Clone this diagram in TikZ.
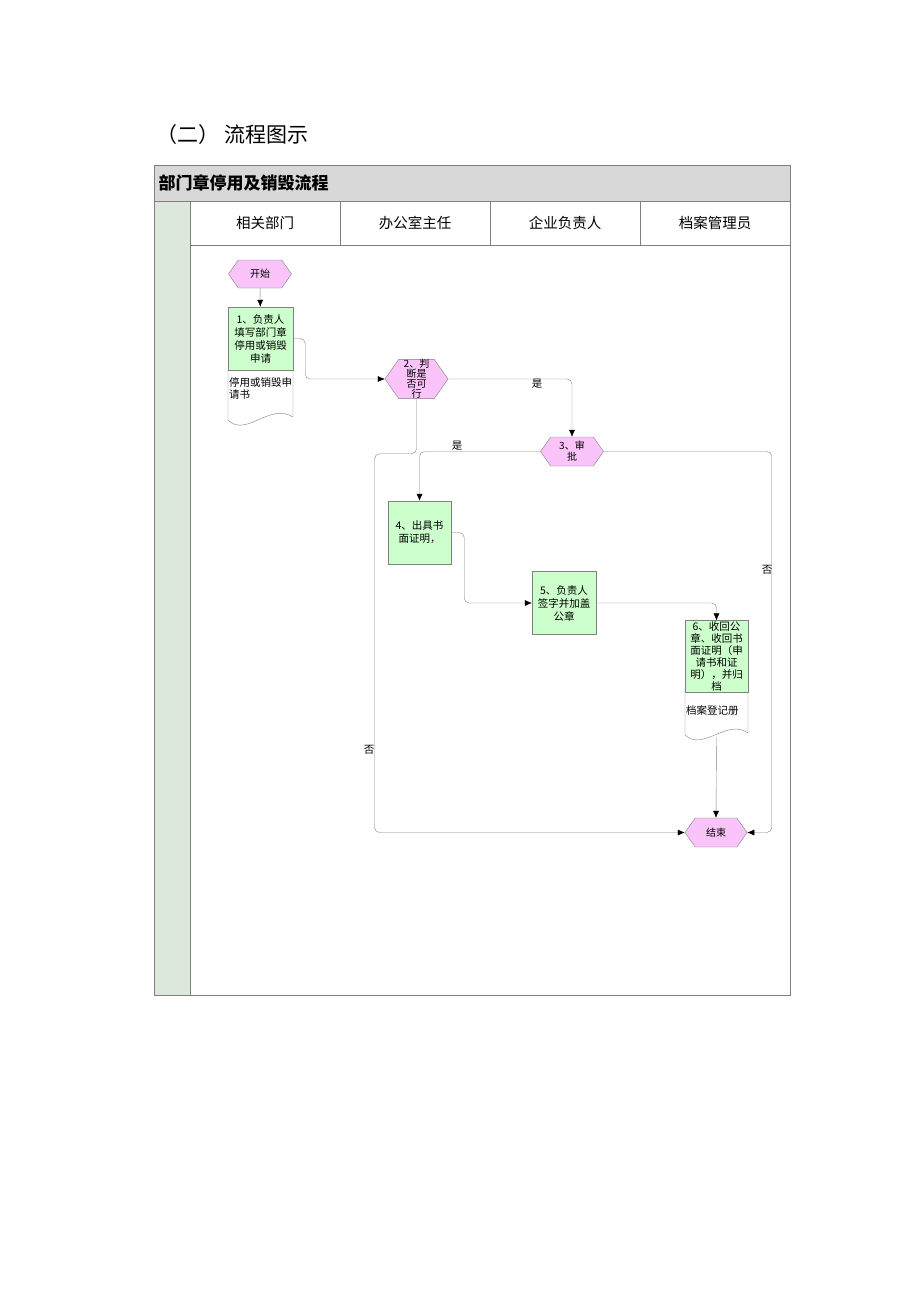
\documentclass[tikz,border=0pt]{standalone}
\usepackage{fontspec}
\setmainfont{Noto Sans CJK SC}
\usetikzlibrary{shapes.symbols,arrows.meta}
\definecolor{procgreen}{RGB}{204,255,204}
\definecolor{termpink}{RGB}{250,196,250}
\definecolor{linegray}{RGB}{128,128,128}
\definecolor{headgray}{RGB}{216,216,216}
\definecolor{stripgray}{RGB}{220,232,220}
\begin{document}
\begin{tikzpicture}[x=1pt,y=-1pt,
    term/.style={signal, signal to=west and east, signal pointer angle=110,
      draw=linegray, fill=termpink, minimum width=63pt, minimum height=28pt,
      inner sep=0pt, font=\fontsize{10}{11}\selectfont, align=center},
    proc/.style={rectangle, draw=linegray, fill=procgreen, minimum width=64pt,
      minimum height=63pt, inner sep=1pt, font=\fontsize{10.5}{13}\selectfont, align=center},
    flow/.style={draw=linegray, rounded corners=5pt,
      -{Latex[color=black,length=7pt,width=6pt]}},
    lane/.style={font=\fontsize{14.5}{16}\selectfont},
    tag/.style={font=\fontsize{10.5}{12}\selectfont, inner sep=1pt}]

  \useasboundingbox (0,0) rectangle (920,1302);

  \node[anchor=west, font=\fontsize{21}{23}\selectfont] (heading) at (153,135) {（二）\ 流程图示};

  % frame and lanes
  \filldraw[draw=linegray, fill=headgray] (154,165) rectangle (790,201);
  \filldraw[draw=linegray, fill=stripgray] (154,201) rectangle (190,995);
  \draw[linegray] (190,201) rectangle (790,995);
  \draw[linegray] (190,245) -- (790,245);
  \foreach \x in {340,490,640}
    \draw[linegray] (\x,201) -- (\x,245);

  \node[anchor=west, font=\bfseries\fontsize{17}{19}\selectfont] (flowtitle) at (155,183) {部门章停用及销毁流程};
  \node[lane] (dept) at (265,223) {相关部门};
  \node[lane] (office) at (415,223) {办公室主任};
  \node[lane] (boss) at (565,223) {企业负责人};
  \node[lane] (keeper) at (715,223) {档案管理员};

  % documents
  \draw[linegray, fill=white] (228,370) -- (228,420) .. controls (246,438) and (270,402) .. (293,417) -- (293,370);
  \draw[linegray, fill=white] (685,688) -- (685,735) .. controls (703,752) and (727,718) .. (748,733) -- (748,688);

  % shapes
  \node[term] (start) at (260,274) {开始};
  \node[proc, minimum width=65pt] (apply) at (260.5,338.5) {1、负责人\\填写部门章\\停用或销毁\\申请};
  \node[tag, anchor=north west, align=left] (applyform) at (228,376) {停用或销毁申\\请书};
  \node[term, font=\fontsize{10}{10}\selectfont, minimum height=32pt] (check) at (416.5,379) {2、判\\断是\\否可\\行};
  \node[term, minimum height=29pt] (approve) at (572,451.5) {3、审\\批};
  \node[proc, minimum width=63pt] (issue) at (419.5,532.5) {4、出具书\\面证明，};
  \node[proc] (sign) at (564,603) {5、负责人\\签字并加盖\\公章};
  \node[proc, minimum width=63pt, font=\fontsize{10.5}{12}\selectfont] (archive) at (716.5,656.5) {6、收回公\\章、收回书\\面证明（申\\请书和证\\明），并归\\档};
  \node[tag, anchor=west] (register) at (685,710) {档案登记册};
  \coordinate (archiveend) at (716.5,737);
  \node[term, minimum width=62pt, minimum height=29pt] (finish) at (716,832.5) {结束};

  % connectors
  \draw[flow] (start) -- (apply);
  \draw[flow] (apply.east) -- ++(12,0) |- (check.west);
  \draw[flow] (check.east) -| (approve.north);
  \draw[flow] (approve.west) -| (issue.north);
  \draw[flow] (approve.east) -- ++(168,0) |- (finish.east);
  \draw[flow] (check.south) -- ++(0,55) -- ++(-42,0) |- (finish.west);
  \draw[flow] (issue.east) -- ++(13,0) |- (sign.west);
  \draw[flow] (sign.east) -| (archive.north);
  \draw[flow] (archiveend) -- (finish.north);

  \node[tag] (yes1) at (537,384) {是};
  \node[tag] (yes2) at (457,446) {是};
  \node[tag] (no1) at (767,570) {否};
  \node[tag] (no2) at (369,750) {否};
\end{tikzpicture}
\end{document}
